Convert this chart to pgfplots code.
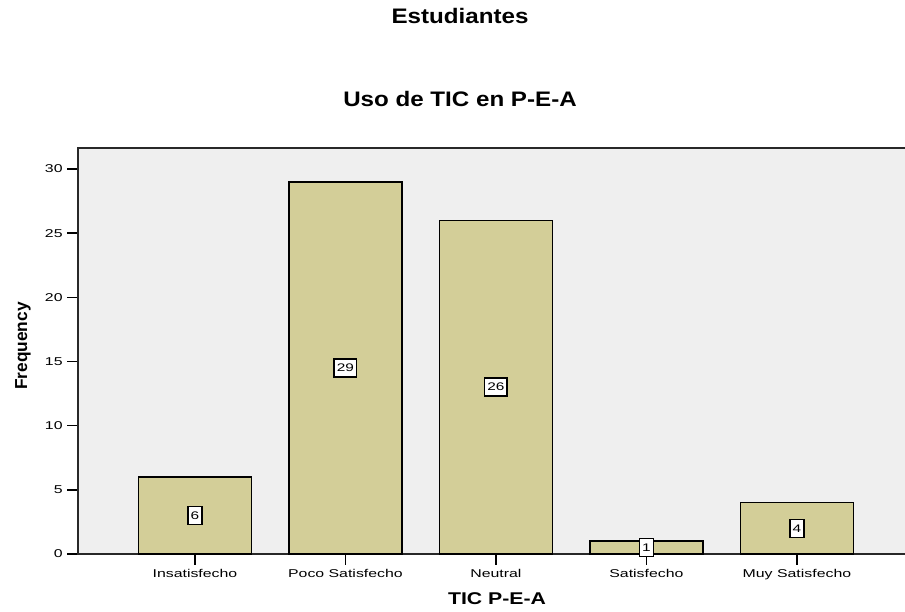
\documentclass[border=0pt]{standalone}
\usepackage{fontspec}
\setmainfont{Liberation Sans}
\newfontfamily\tickf{Liberation Sans}[FakeStretch=1.4]
\newfontfamily\titf{Liberation Sans}[FakeStretch=1.15]
\newfontfamily\labf{Liberation Sans}[FakeStretch=1.25]
\usepackage{pgfplots}
\usepackage{pgfplotstable}
\pgfplotsset{compat=1.18}
\definecolor{barfill}{RGB}{211,206,152}
\definecolor{plotbg}{RGB}{239,239,239}
\definecolor{axline}{RGB}{40,40,40}

\pgfplotstableread{
x f
0 6
1 29
2 26
3 1
4 4
}\tic

\begin{document}
\begin{tikzpicture}
\useasboundingbox (0,0) rectangle (678.75pt,458.25pt);
\begin{axis}[
  at={(58.5pt,42.75pt)}, anchor=south west,
  scale only axis, width=621.6pt, height=304.5pt,
  xmin=-0.777, xmax=4.73, ymin=0, ymax=31.64,
  axis background/.style={fill=plotbg},
  axis line style={axline, line width=1.1pt},
  ybar, bar width=84.75pt, bar shift=0pt,
  xtick=data,
  xticklabels={Insatisfecho,Poco Satisfecho,Neutral,Satisfecho,Muy Satisfecho},
  ytick={0,5,...,30},
  tick align=outside, xtick pos=bottom, ytick pos=left,
  major tick length=8pt,
  tick style={black, line width=1.1pt},
  ticklabel style={font=\tickf\fontsize{8.5pt}{10pt}\selectfont},
  /pgf/number format/assume math mode=true,
  xticklabel style={anchor=base, yshift=-9.75pt},
]
\addplot[fill=barfill, draw=black, line width=1.1pt] table[x=x, y=f] {\tic};
\addplot[draw=none, fill=none, point meta=explicit,
  nodes near coords, nodes near coords align=center,
  every node near coord/.style={anchor=center, fill=white, draw=black,
    line width=1.1pt, inner xsep=2pt, inner ysep=0pt, minimum height=13.5pt,
    font=\tickf\fontsize{8.25pt}{9pt}\selectfont}]
  table[x=x, y expr=\thisrow{f}/2, meta=f] {\tic};
\end{axis}
\node[anchor=base, font=\titf\bfseries\fontsize{15.75pt}{18pt}\selectfont] at (345pt,440.25pt) {Estudiantes};
\node[anchor=base, font=\titf\bfseries\fontsize{15.75pt}{18pt}\selectfont] at (345pt,378.2pt) {Uso de TIC en P-E-A};
\node[anchor=base, font=\labf\bfseries\fontsize{12.75pt}{15pt}\selectfont] at (372.75pt,5.25pt) {TIC P-E-A};
\node[anchor=base, rotate=90, font=\bfseries\fontsize{13pt}{15pt}\selectfont] at (20.25pt,198.75pt) {Frequency};
\end{tikzpicture}
\end{document}
